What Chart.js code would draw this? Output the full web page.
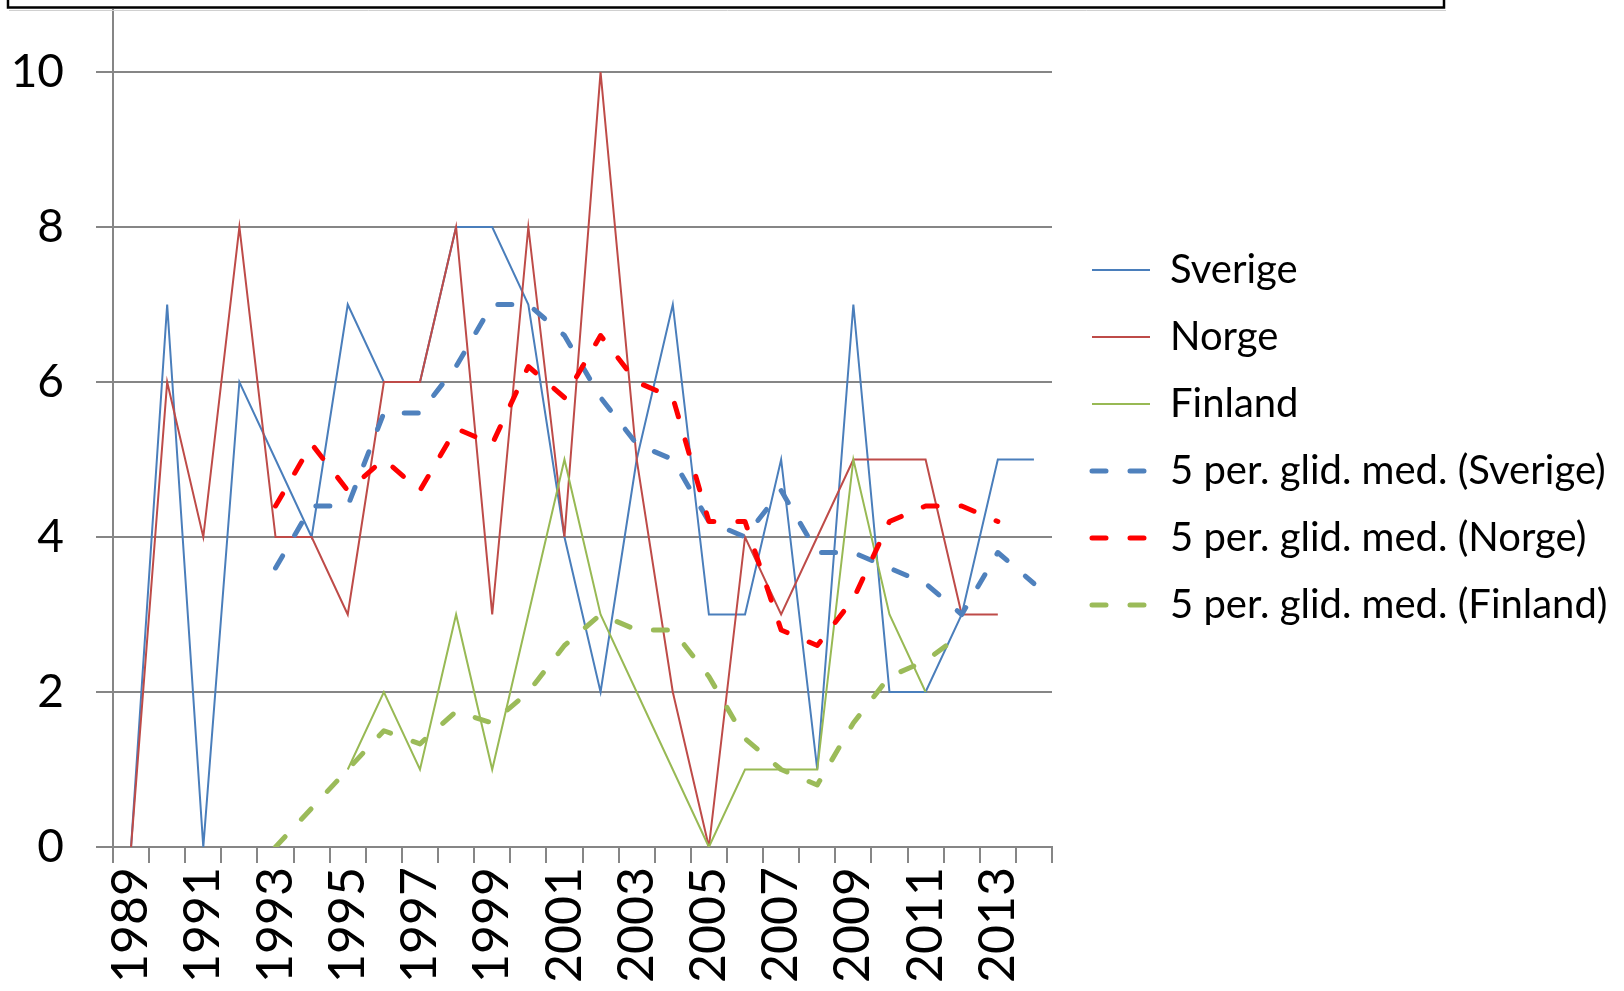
<!DOCTYPE html>
<html lang="sv">
<head>
<meta charset="UTF-8">
<title>Sverige, Norge, Finland 1989-2014</title>
<script src="https://cdn.jsdelivr.net/npm/chart.js"></script>
<style>
    html, body { margin: 0; padding: 0; background: #fff; }
    canvas { display: block; }
</style>
</head>
<body>
<canvas id="chart" width="1624" height="991"></canvas>
<script>
    // years on the category axis
    const years = ['1989', '1990', '1991', '1992', '1993', '1994', '1995', '1996', '1997', '1998', '1999', '2000', '2001',
                   '2002', '2003', '2004', '2005', '2006', '2007', '2008', '2009', '2010', '2011', '2012', '2013', '2014'];

    // yearly values
    const sverige = [0, 7, 0, 6, 5, 4, 7, 6, 6, 8, 8, 7, 4, 2, 5, 7, 3, 3, 5, 1, 7, 2, 2, 3, 5, 5];
    const norge   = [0, 6, 4, 8, 4, 4, 3, 6, 6, 8, 3, 8, 4, 10, 5, 2, 0, 4, 3, 4, 5, 5, 5, 3, 3, null];
    const finland = [null, null, null, null, null, null, 1, 2, 1, 3, 1, 3, 5, 3, 2, 1, 0, 1, 1, 1, 5, 3, 2, null, null, null];

    // 5 per. glid. med. (trend lines)
    const glidSverige = [null, null, null, null, 3.6, 4.4, 4.4, 5.6, 5.6, 6.2, 7.0, 7.0, 6.6, 5.8, 5.2, 5.0, 4.2, 4.0, 4.6, 3.8, 3.8, 3.6, 3.4, 3.0, 3.8, 3.4];
    const glidNorge   = [null, null, null, null, 4.4, 5.2, 4.6, 5.0, 4.6, 5.4, 5.2, 6.2, 5.8, 6.6, 6.0, 5.8, 4.2, 4.2, 2.8, 2.6, 3.2, 4.2, 4.4, 4.4, 4.2, null];
    const glidFinland = [null, null, null, null, 0, 0.5, 1.0, 1.5, 1.33, 1.75, 1.6, 2.0, 2.6, 3.0, 2.8, 2.8, 2.2, 1.4, 1.0, 0.8, 1.6, 2.2, 2.4, 2.75, null, null];

    const yTicks = [0, 2, 4, 6, 8, 10];

    const gridGray = '#868686';
    const dash = [14, 24];

    Chart.defaults.font.family = 'Lato, "Open Sans", sans-serif';
    Chart.defaults.color = '#000';

    // the black frame edge cut off at the top of the picture
    const topFrame = {
        id: 'topFrame',
        afterDraw(chart) {
            const c = chart.ctx;
            c.save();
            c.strokeStyle = '#d0d0d0';
            c.lineWidth = 1;
            c.beginPath();
            c.moveTo(9, 10.5);
            c.lineTo(1446, 10.5);
            c.stroke();
            c.strokeStyle = '#000';
            c.lineWidth = 2.5;
            c.beginPath();
            c.moveTo(8, 0);
            c.lineTo(8, 7.5);
            c.lineTo(1444, 7.5);
            c.lineTo(1444, 0);
            c.stroke();
            c.restore();
        }
    };

    // fixed legend width, then nudge the legend block to where it sits in the original
    const legendPlace = {
        id: 'legendPlace',
        beforeLayout(chart) {
            const lg = chart.legend;
            if (lg && !lg._fixedWidth) {
                const fit = lg.fit;
                lg.fit = function () {
                    fit.call(this);
                    this.width = 572;
                };
                lg._fixedWidth = true;
            }
        },
        afterLayout(chart) {
            const lg = chart.legend;
            lg.left += 13;
            lg.right += 13;
            lg.top += 9;
            lg.bottom += 9;
        }
    };

    function lineSet(label, data, color, order) {
        return {
            label: label,
            data: data,
            borderColor: color,
            backgroundColor: color,
            borderWidth: 2,
            pointRadius: 0,
            tension: 0,
            order: order
        };
    }

    function glidSet(label, data, color, order) {
        return {
            label: label,
            data: data,
            borderColor: color,
            backgroundColor: color,
            borderWidth: 5,
            borderDash: dash,
            borderCapStyle: 'round',
            borderJoinStyle: 'round',
            pointRadius: 0,
            tension: 0,
            order: order
        };
    }

    new Chart(document.getElementById('chart').getContext('2d'), {
        type: 'line',
        data: {
            labels: years,
            datasets: [
                lineSet('Sverige', sverige, '#4A7EBB', 6),
                lineSet('Norge', norge, '#BE4B48', 5),
                lineSet('Finland', finland, '#98B954', 4),
                glidSet('5 per. glid. med. (Sverige)', glidSverige, '#4F81BD', 3),
                glidSet('5 per. glid. med. (Norge)', glidNorge, '#FF0000', 2),
                glidSet('5 per. glid. med. (Finland)', glidFinland, '#9BBB59', 1)
            ]
        },
        options: {
            responsive: false,
            animation: false,
            layout: { padding: { top: 10, left: 0, right: 0, bottom: 0 } },
            scales: {
                x: {
                    offset: true,
                    grid: {
                        offset: true,
                        drawOnChartArea: false,
                        drawTicks: true,
                        tickLength: 16,
                        color: gridGray,
                        lineWidth: 2
                    },
                    border: { display: true, color: gridGray, width: 2 },
                    ticks: {
                        autoSkip: false,
                        minRotation: 90,
                        maxRotation: 90,
                        padding: 4,
                        font: { size: 50 },
                        callback: function (value, index) {
                            return index % 2 === 0 ? this.getLabelForValue(value) : '';
                        }
                    },
                    afterFit: function (scale) {
                        scale.height = 144;
                        scale.paddingLeft = 0;
                        scale.paddingRight = 0;
                    }
                },
                y: {
                    min: 0,
                    max: 10.8,
                    afterBuildTicks: function (scale) {
                        scale.ticks = yTicks.map(v => ({ value: v }));
                    },
                    grid: {
                        color: gridGray,
                        lineWidth: 2,
                        drawTicks: true,
                        tickLength: 17
                    },
                    border: { display: true, color: gridGray, width: 2 },
                    ticks: {
                        padding: 32,
                        font: { size: 46 }
                    },
                    afterFit: function (scale) {
                        scale.width = 113;
                        scale.paddingTop = 0;
                        scale.paddingBottom = 0;
                    }
                }
            },
            plugins: {
                tooltip: { enabled: false },
                legend: {
                    position: 'right',
                    fullSize: false,
                    labels: {
                        usePointStyle: true,
                        pointStyle: 'line',
                        pointStyleWidth: 58,
                        padding: 27,
                        font: { size: 40 },
                        sort: (a, b) => a.datasetIndex - b.datasetIndex,
                        // take dash, width and cap from the line itself, not from its points
                        generateLabels: function (chart) {
                            const items = Chart.defaults.plugins.legend.labels.generateLabels(chart);
                            items.forEach(item => {
                                const ds = chart.data.datasets[item.datasetIndex];
                                item.lineDash = ds.borderDash || [];
                                item.lineWidth = ds.borderWidth;
                                item.lineCap = ds.borderCapStyle || 'butt';
                                item.strokeStyle = ds.borderColor;
                            });
                            return items;
                        }
                    }
                }
            }
        },
        plugins: [topFrame, legendPlace]
    });
</script>
</body>
</html>
